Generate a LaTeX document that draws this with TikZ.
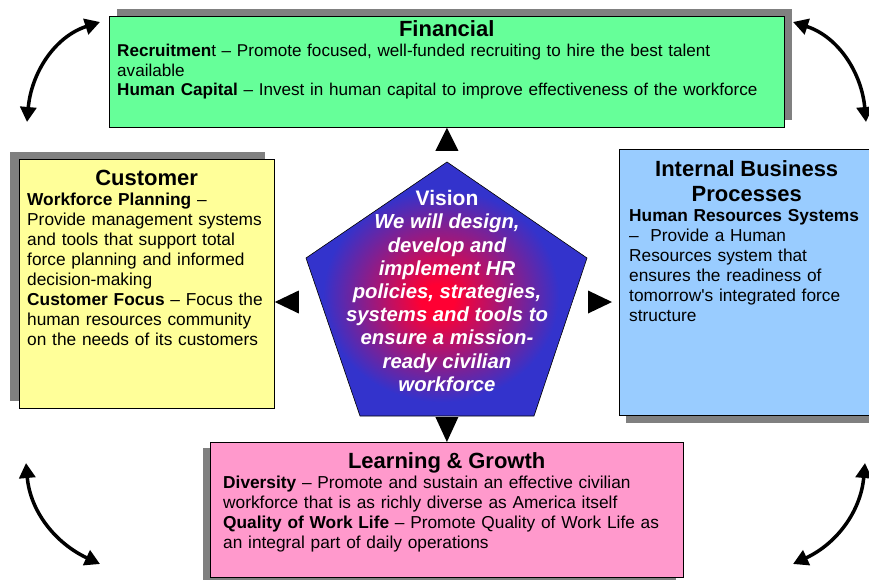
\documentclass[tikz,border=0pt]{standalone}
\usepackage{fontspec}
\setmainfont{Liberation Sans}
\usetikzlibrary{arrows.meta,shadows,calc}

\definecolor{fingreen}{HTML}{66FF99}
\definecolor{cusyellow}{HTML}{FFFF99}
\definecolor{ibpblue}{HTML}{99CCFF}
\definecolor{lngpink}{HTML}{FF99CC}
\definecolor{shadegray}{HTML}{808080}
\definecolor{visred}{HTML}{FF0033}
\definecolor{visblue}{HTML}{3333CC}

\pgfdeclareradialshading{visionshade}{\pgfpoint{-1.7bp}{-2.2bp}}%
  {color(0bp)=(visred); color(3bp)=(visred); color(21bp)=(visblue); color(50bp)=(visblue)}

\newcommand{\bodysize}{\fontsize{17.3}{20}\selectfont}
\newcommand{\finsize}{\fontsize{17.1}{19.5}\selectfont}
\newcommand{\headsize}{\fontsize{22}{25}\selectfont\bfseries}
\newcommand{\vissize}{\fontsize{20.3}{23.2}\selectfont\bfseries\itshape}

\begin{document}
\begin{tikzpicture}[x=1pt,y=1pt,>={Triangle[length=15pt,width=16pt]}]

  \tikzstyle{box}=[draw=black,line width=0.8pt,anchor=north west,inner sep=0pt]
  \tikzstyle{txt}=[anchor=north west,inner sep=0pt,align=left,font=\bodysize]

  \useasboundingbox (0,0) rectangle (869,-579);

  % the four perspectives
  \node[box,fill=fingreen,minimum width=675pt,minimum height=111pt,
        drop shadow={shadow xshift=8pt,shadow yshift=7pt,fill=shadegray,opacity=1}]
        (FIN) at (109,-16) {};
  \node[box,fill=cusyellow,minimum width=255pt,minimum height=249pt,
        drop shadow={shadow xshift=-9pt,shadow yshift=7pt,fill=shadegray,opacity=1}]
        (CUS) at (19,-159) {};
  \node[box,fill=ibpblue,minimum width=255pt,minimum height=266pt,
        drop shadow={shadow xshift=7pt,shadow yshift=-8pt,fill=shadegray,opacity=1}]
        (IBP) at (619,-149) {};
  \node[box,fill=lngpink,minimum width=473pt,minimum height=135pt,
        drop shadow={shadow xshift=-7pt,shadow yshift=-6pt,fill=shadegray,opacity=1}]
        (LNG) at (210,-442) {};

  \node[txt,font=\finsize,text width=659pt] (FINtxt) at (117,-20)
    {\makebox[\linewidth]{\headsize Financial}\\[1pt]
     \textbf{Recruitmen}t -- Promote focused, well-funded recruiting to hire the best talent\\
     available\\
     \textbf{Human Capital} -- Invest in human capital to improve effectiveness of the workforce};
  \node[txt,text width=239pt] (CUStxt) at (27,-170)
    {\makebox[\linewidth]{\headsize Customer}\\
     \textbf{Workforce Planning} --\\
     Provide management systems\\
     and tools that support total\\
     force planning and informed\\
     decision-making\\
     \textbf{Customer Focus} -- Focus the\\
     human resources community\\
     on the needs of its customers};
  \node[txt,text width=235pt] (IBPtxt) at (629,-160)
    {\makebox[\linewidth]{\headsize Internal Business}\\[5pt]
     \makebox[\linewidth]{\headsize Processes}\\
     \textbf{Human Resources Systems}\\
     --\ \ Provide a Human\\
     Resources system that\\
     ensures the readiness of\\
     tomorrow\textquotesingle s integrated force\\
     structure};
  \node[txt,text width=447pt] (LNGtxt) at (223,-452)
    {\makebox[\linewidth]{\headsize Learning \& Growth}\\
     \textbf{Diversity} -- Promote and sustain an effective civilian\\
     workforce that is as richly diverse as America itself\\
     \textbf{Quality of Work Life} -- Promote Quality of Work Life as\\
     an integral part of daily operations};

  % vision pentagon
  \coordinate (P1) at (447,-162);
  \coordinate (P2) at (587,-258);
  \coordinate (P3) at (534,-416);
  \coordinate (P4) at (360,-416);
  \coordinate (P5) at (306,-258);
  \shadedraw[shading=visionshade,draw=black,line width=0.6pt]
    (P1) -- (P2) -- (P3) -- (P4) -- (P5) -- cycle;
  \node[align=center,text=white,font=\vissize,inner sep=0pt] (VIS) at (447,-291)
    {{\upshape\fontsize{21}{23.2}\selectfont Vision}\\
     We will design,\\
     develop and\\
     implement HR\\
     policies, strategies,\\
     systems and tools to\\
     ensure a mission-\\
     ready civilian\\
     workforce};

  % pointers from the vision
  \coordinate (MID) at (447,-302);
  \fill (FIN.south) -- ++(-11.5,-23) -- ++(23,0) -- cycle;
  \fill (LNG.north) -- ++(-11.5,25) -- ++(23,0) -- cycle;
  \fill (CUS.east |- MID) -- ++(24,11.5) -- ++(0,-23) -- cycle;
  \fill ($(IBP.west |- MID)+(-7,0)$) -- ++(-24,11.5) -- ++(0,-23) -- cycle;

  % cycle arrows in the corners
  \coordinate (TL1) at (27,-122);
  \coordinate (TL2) at (100,-22);
  \coordinate (TR1) at (866,-122);
  \coordinate (TR2) at (793,-22);
  \coordinate (BL1) at (26,-463);
  \coordinate (BL2) at (100,-564);
  \coordinate (BR1) at (865,-463);
  \coordinate (BR2) at (793,-564);

  \path[<->,line width=3.5pt]
  (TL1) edge [out=85,in=198]  (TL2)
  (TR1) edge [out=95,in=-18]  (TR2)
  (BL1) edge [out=-85,in=155] (BL2)
  (BR1) edge [out=-95,in=25]  (BR2)
  ;
\end{tikzpicture}
\end{document}
